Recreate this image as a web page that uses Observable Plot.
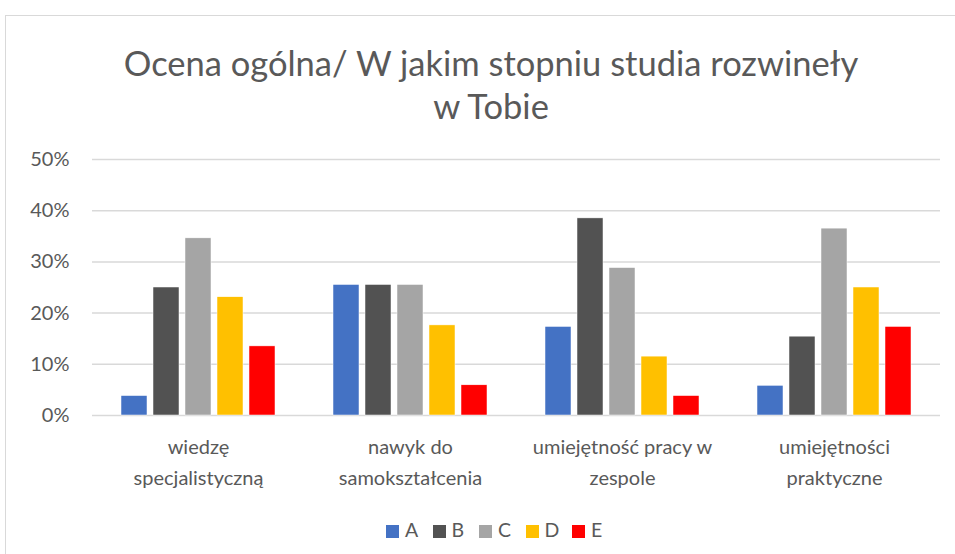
<!DOCTYPE html>
<html>
<head>
<meta charset="utf-8">
<script src="https://cdn.jsdelivr.net/npm/d3@7"></script>
<script src="https://cdn.jsdelivr.net/npm/@observablehq/plot@0.6"></script>
<style>
  html, body { margin: 0; padding: 0; background: #fff; overflow: hidden; }
  body { width: 955px; height: 554px; position: relative; font-family: Lato, "Open Sans", sans-serif; color: #595959; }
  #frame { position: absolute; left: 5px; top: 15px; width: 1000px; height: 600px; border: 1.5px solid #d9d9d9; box-sizing: border-box; }
  #title { position: absolute; left: 0; width: 982px; top: 41px; text-align: center; font-size: 34.5px; line-height: 43px; color: #595959; }
  #chart { position: absolute; left: 0; top: 140px; }
  #legend { position: absolute; left: 0; top: 519px; width: 955px; height: 22px; font-size: 19.5px; line-height: 22px; }
  .item { position: absolute; top: 0; white-space: nowrap; }
  .sw { display: inline-block; width: 13px; height: 13px; margin-right: 6px; vertical-align: -1px; }
</style>
</head>
<body>
<div id="frame"></div>
<div id="title">Ocena ogólna/ W jakim stopniu studia rozwineły<br>w Tobie</div>
<div id="chart"></div>
<div id="legend"></div>
<script>
const categories = ["wiedzę\nspecjalistyczną", "nawyk do\nsamokształcenia", "umiejętność pracy w\nzespole", "umiejętności\npraktyczne"];
const seriesNames = ["A", "B", "C", "D", "E"];
const seriesA = [0.038, 0.255, 0.173, 0.058];
const seriesB = [0.25, 0.255, 0.385, 0.154];
const seriesC = [0.346, 0.255, 0.288, 0.365];
const seriesD = [0.231, 0.176, 0.115, 0.25];
const seriesE = [0.135, 0.059, 0.038, 0.173];
const yTicks = [0, 0.1, 0.2, 0.3, 0.4, 0.5];
const colors = ["#4472C4", "#525252", "#A5A5A5", "#FFC000", "#FF0000"];

const allSeries = [seriesA, seriesB, seriesC, seriesD, seriesE];
const data = categories.flatMap((c, i) => seriesNames.map((s, j) => ({category: c, series: s, value: allSeries[j][i]})));

const chart = Plot.plot({
  width: 955,
  height: 375,
  marginLeft: 91,
  marginRight: 15,
  marginTop: 19,
  marginBottom: 100,
  style: {fontFamily: "Lato, 'Open Sans', sans-serif", color: "#595959", background: "transparent"},
  fx: {domain: categories, padding: 0, label: null, axis: null},
  x: {domain: seriesNames, axis: null, paddingInner: 0.2, paddingOuter: 0.86},
  y: {domain: [0, 0.5], label: null},
  color: {domain: seriesNames, range: colors},
  marks: [
    Plot.gridY(yTicks, {stroke: "#d9d9d9", strokeOpacity: 1, strokeWidth: 1.5}),
    Plot.axisY(yTicks, {tickSize: 0, tickPadding: 23, fontSize: 20, fill: "#595959", tickFormat: d3.format(".0%"), label: null}),
    Plot.axisFx({anchor: "bottom", tickSize: 0, tickPadding: 16, fontSize: 20, fill: "#595959", lineHeight: 1.55, label: null}),
    Plot.barY(data, {fx: "category", x: "series", y: "value", fill: "series", stroke: "#fff", strokeWidth: 0.5})
  ]
});
document.getElementById("chart").appendChild(chart);

const legend = document.getElementById("legend");
seriesNames.forEach((s, i) => {
  const item = document.createElement("span");
  item.className = "item";
  item.style.left = (386 + i * 46.5) + "px";
  const sw = document.createElement("span");
  sw.className = "sw";
  sw.style.background = colors[i];
  item.appendChild(sw);
  item.appendChild(document.createTextNode(s));
  legend.appendChild(item);
});
</script>
</body>
</html>
